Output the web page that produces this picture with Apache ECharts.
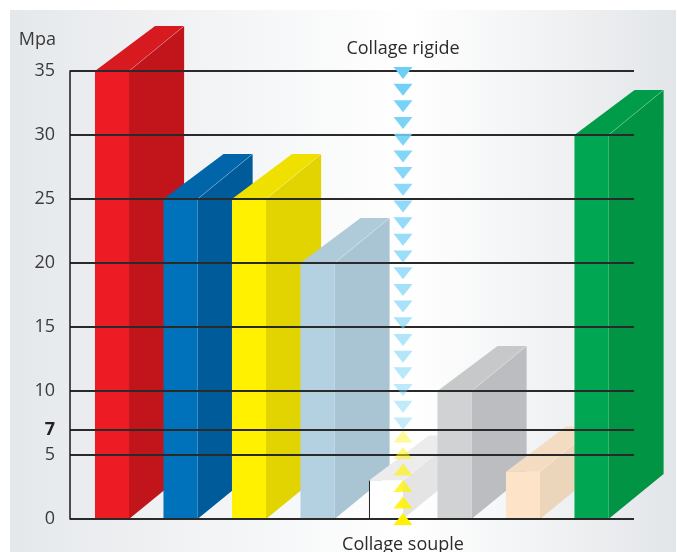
<!DOCTYPE html>
<html><head><meta charset="utf-8">
<script src="https://cdn.jsdelivr.net/npm/echarts@6/dist/echarts.min.js"></script>
<style>html,body{margin:0;padding:0;background:#fff}#c{width:677px;height:552px}</style>
</head><body><div id="c"></div>
<script>
// ---- data ----
const categories = ['Rouge', 'Bleu', 'Jaune', 'Bleu clair', 'Blanc', 'Gris', 'Pêche', 'Vert'];
const values = [35, 25, 25, 20, 3, 10, 3.7, 30];
const yTicks = [0, 5, 7, 10, 15, 20, 25, 30, 35];
const threshold = 7;            // limite collage rigide / collage souple
const rigidArrowCount = 22;
const soupleArrowCount = 6;
const arrowAnchorIndex = 4;     // arrows sit at the right edge of this bar
const yMin = 0, yMax = 35;
const labelRigide = 'Collage rigide';
const labelSouple = 'Collage souple';
const unitName = 'Mpa';

// ---- styles (front, top, side) ----
const faceColors = [
  ['#ed1c24', '#d71920', '#c1141b'],
  ['#0072bb', '#0066a9', '#005b9a'],
  ['#fff100', '#efe000', '#e1d400'],
  ['#b3d1e1', '#afcbda', '#a9c5d4'],
  ['#ffffff', '#ececec', '#e4e4e5'],
  ['#d1d2d4', '#c7c8ca', '#bcbdc1'],
  ['#fde4c9', '#f3dcc2', '#ebd5bb'],
  ['#00a651', '#009c4a', '#009444']
];
const FONT = '"Open Sans", sans-serif';
const FRONT_HALF = 0.2485, DX_R = 0.804, DX_L = 0.877, DY = 0.658;

const chart = echarts.init(document.getElementById('c'), null, {renderer: 'canvas'});

function renderBar(params, api) {
  const i = api.value(0), v = api.value(1);
  const top = api.coord([i, v]);
  const base = api.coord([i, 0]);
  const unit = api.size([1, 0])[0];
  const L = top[0] - unit * FRONT_HALF, R = top[0] + unit * FRONT_HALF;
  const T = top[1], B = base[1];
  const dxR = unit * DX_R, dxL = unit * DX_L, dy = unit * DY;
  const col = faceColors[params.dataIndex];
  const children = [
    {type: 'polygon', shape: {points: [[R, T], [R + dxR, T - dy], [R + dxR, B - dy], [R, B]]}, style: {fill: col[2]}},
    {type: 'polygon', shape: {points: [[L, T], [R, T], [R + dxR, T - dy], [L + dxL, T - dy]]}, style: {fill: col[1]}},
    {type: 'line', shape: {x1: R, y1: T, x2: R + dxR, y2: T - dy}, style: {stroke: 'rgba(255,255,255,0.25)', lineWidth: 1}},
    {type: 'rect', shape: {x: L, y: T, width: R - L, height: B - T}, style: {fill: col[0]}}
  ];
  if (params.dataIndex === arrowAnchorIndex) {
    children.push({type: 'line', shape: {x1: L + 0.5, y1: T, x2: L + 0.5, y2: B}, style: {stroke: '#222', lineWidth: 1}});
  }
  return {type: 'group', children};
}

function renderArrows(params, api) {
  const unit = api.size([1, 0])[0];
  const cx = api.coord([api.value(0), 0])[0] + unit * FRONT_HALF;
  const topPx = api.coord([0, yMax])[1] - 4;
  const thrPx = api.coord([0, api.value(1)])[1];
  const zeroPx = api.coord([0, yMin])[1] + 6;
  const w = 9.5, h = 12;
  const children = [];
  let step = (thrPx - topPx - h) / (rigidArrowCount - 1);
  for (let k = 0; k < rigidArrowCount; k++) {
    const y0 = topPx + k * step;
    const a = 1 - 0.6 * k / (rigidArrowCount - 1);
    children.push({type: 'polygon', shape: {points: [[cx - w, y0], [cx + w, y0], [cx, y0 + h]]},
      style: {fill: '#6dcff6', opacity: a}});
  }
  step = (zeroPx - (thrPx + 1) - h) / (soupleArrowCount - 1);
  for (let k = 0; k < soupleArrowCount; k++) {
    const y0 = thrPx + 1 + k * step;
    const a = 0.4 + 0.6 * k / (soupleArrowCount - 1);
    children.push({type: 'polygon', shape: {points: [[cx, y0], [cx + w, y0 + h], [cx - w, y0 + h]]},
      style: {fill: '#fff200', opacity: a}});
  }
  return {type: 'group', children};
}

const option = {
  backgroundColor: '#ffffff',
  animation: false,
  grid: {left: 70, top: 71, width: 564, height: 448, containLabel: false},
  graphic: [
    {type: 'rect', z: -10, silent: true, shape: {x: 10, y: 10, width: 666, height: 542},
      style: {fill: new echarts.graphic.LinearGradient(0, 0, 1, 0, [
        {offset: 0, color: '#e5e8eb'}, {offset: 0.6, color: '#ffffff'}, {offset: 1, color: '#e3e6e9'}])}},
    {type: 'text', z: 10, x: 403, y: 49, style: {text: labelRigide, textAlign: 'center', textVerticalAlign: 'middle',
      font: '18px ' + FONT, fill: '#2b2b2b'}},
    {type: 'text', z: 10, x: 403, y: 545, style: {text: labelSouple, textAlign: 'center', textVerticalAlign: 'middle',
      font: '18px ' + FONT, fill: '#2b2b2b'}},
    {type: 'text', z: 10, x: 56, y: 40, style: {text: unitName, textAlign: 'right', textVerticalAlign: 'middle',
      font: '18px ' + FONT, fill: '#3a3a3a'}}
  ],
  xAxis: {type: 'value', min: -0.6131, max: 7.6204, show: false},
  yAxis: {
    type: 'value', min: yMin, max: yMax, interval: 5, z: 3,
    axisLine: {show: true, onZero: false, lineStyle: {color: '#1a1a1a', width: 1.5}},
    axisTick: {show: false, customValues: yTicks},
    axisLabel: {customValues: yTicks, fontSize: 18, color: '#3a3a3a', margin: 15, fontFamily: FONT,
      formatter: v => v === threshold ? '{b|' + v + '}' : String(v),
      rich: {b: {fontWeight: 'bold', fontSize: 18, color: '#222', fontFamily: FONT}}},
    splitLine: {show: true, lineStyle: {color: '#2a2a2a', width: 2}}
  },
  series: [
    {type: 'custom', name: 'bars', z: 2, clip: false, renderItem: renderBar,
      data: values.map((v, i) => [i, v, categories[i]])},
    {type: 'custom', name: 'arrows', z: 5, clip: false, renderItem: renderArrows,
      data: [[arrowAnchorIndex, threshold]]}
  ]
};
chart.setOption(option);
</script></body></html>
